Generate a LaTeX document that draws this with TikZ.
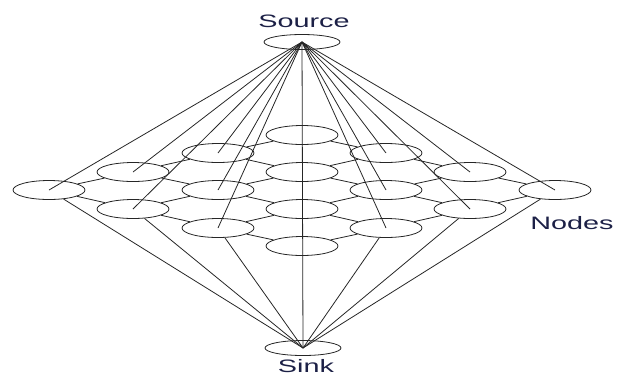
\documentclass[tikz,border=0pt]{standalone}
\usepackage{fontspec}
\setmainfont{Liberation Sans}
\usetikzlibrary{shapes.geometric}
\definecolor{labelblue}{RGB}{28,32,70}
\tikzset{
  nd/.style={draw=black!85, line width=0.8pt, ellipse, minimum width=72pt, minimum height=19pt, inner sep=0pt},
  term/.style={draw=black!85, line width=0.8pt, ellipse, minimum width=76pt, minimum height=15pt, inner sep=0pt},
  ln/.style={draw=black!85, line width=0.8pt},
  lbl/.style={text=labelblue, font=\fontsize{18}{20}\selectfont, inner sep=0pt}
}
\newcommand{\wide}[1]{\scalebox{1.6}[1]{#1}}
\begin{document}
\begin{tikzpicture}[x=1pt,y=-1pt]
\useasboundingbox (0,0) rectangle (617,376);
% terminals
\node[term] (src) at (302,42) {};
\node[term] (snk) at (303,348) {};
% lattice nodes
\node[nd] (n00) at (49,190) {};
\node[nd] (n10) at (133,172) {};
\node[nd] (n11) at (133,209) {};
\node[nd] (n20) at (218,153) {};
\node[nd] (n21) at (218,190) {};
\node[nd] (n22) at (218,228) {};
\node[nd] (n30) at (302,135) {};
\node[nd] (n31) at (302,172) {};
\node[nd] (n32) at (302,209) {};
\node[nd] (n33) at (302,246) {};
\node[nd] (n40) at (386,153) {};
\node[nd] (n41) at (386,190) {};
\node[nd] (n42) at (386,228) {};
\node[nd] (n50) at (470,172) {};
\node[nd] (n51) at (470,209) {};
\node[nd] (n60) at (555,190) {};
% labels
\node[lbl] (lsrc) at (304,21) {\wide{Source}};
\node[lbl] (lsnk) at (306,366) {\wide{Sink}};
\node[lbl] (lnodes) at (572,223) {\wide{Nodes}};
% lattice edges
\foreach \a/\b in {n00/n10,n00/n11,n10/n20,n10/n21,n11/n21,n11/n22,
  n20/n30,n20/n31,n21/n31,n21/n32,n22/n32,n22/n33,
  n30/n40,n31/n40,n31/n41,n32/n41,n32/n42,n33/n42,
  n40/n50,n41/n50,n41/n51,n42/n51,n50/n60,n51/n60}
  \draw[ln] (\a) -- (\b);
% source lines to node centres
\foreach \n in {n00,n10,n11,n20,n21,n22,n40,n41,n42,n50,n51,n60}
  \draw[ln] (src.center) -- (\n.center);
% vertical line
\draw[ln] (src.center) -- (snk.center);
% sink lines to lower boundary
\foreach \n in {n00,n11,n22,n42,n51,n60}
  \draw[ln] (snk.center) -- (\n);
\end{tikzpicture}
\end{document}
